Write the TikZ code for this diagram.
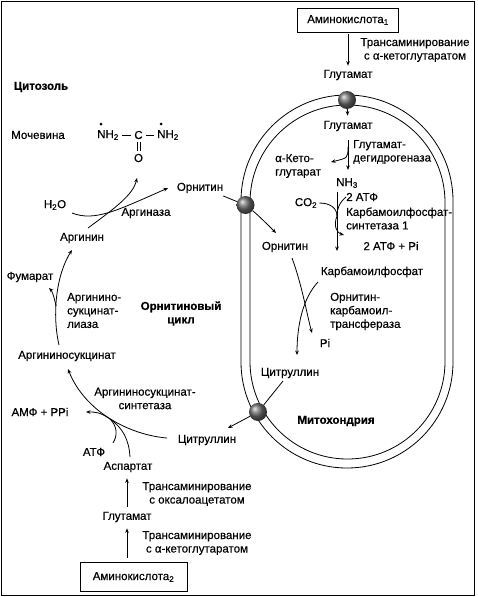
\documentclass[tikz,border=0pt]{standalone}
\usepackage{fontspec}
\setmainfont{Liberation Sans}[FakeBold=0.6]
\usetikzlibrary{arrows.meta}
\begin{document}
\begin{tikzpicture}[x=1pt,y=-1pt,
  every node/.style={font=\fontsize{11.5}{13.5}\selectfont\addfontfeature{FakeBold=0.4}, inner sep=0pt},
  bf/.style={font=\fontsize{11.5}{13.5}\selectfont\bfseries},
  arr/.style={-{Stealth[length=4.5pt,width=3.6pt]}, line width=0.8pt},
  ln/.style={line width=0.8pt},
  box/.style={draw, line width=0.8pt, minimum width=101pt, minimum height=24pt},
  mem/.style={line width=0.8pt},
  ball/.style={circle, minimum size=18pt, shading=ball, ball color=gray!85!black}]
\useasboundingbox (0,0) rectangle (477,597);
\draw[line width=0.9pt] (1.5,1.5) rectangle (474.5,595);
% mitochondrion
\draw[mem, rounded corners=105.9pt] (241,95) rectangle (453,468);
\draw[mem, rounded corners=97.4pt] (250,105) rectangle (445,459);
% ---- nodes: mitochondrial side
\node[box] (aa1) at (348,20) {Аминокислота\textsubscript{1}};
\node[align=center] (tr1) at (415,50) {Трансаминирование\\с α-кетоглутаратом};
\node (glu1) at (348,75) {Глутамат};
\node[ball] (b1) at (347,100) {};
\node (glu2) at (348,126) {Глутамат};
\node[align=left, anchor=west] (gdh) at (353,152) {Глутамат-\\дегидрогеназа};
\node[align=left, anchor=west] (akg) at (275,166) {α-Кето-\\глутарат};
\node (nh3) at (347,183) {NH\textsubscript{3}};
\node (co2) at (306,203) {CO\textsubscript{2}};
\node[anchor=west] (atp2) at (346,197) {2 АТФ};
\node[align=left, anchor=west] (cps) at (346,218.5) {Карбамоилфосфат-\\синтетаза 1};
\node (atppi) at (391,246) {2 АТФ + Pi};
\node (ornin) at (285,247) {Орнитин};
\node (ornout) at (200,188) {Орнитин};
\node[ball] (b2) at (245.5,205) {};
\node (carbp) at (372,272) {Карбамоилфосфат};
\node[align=left, anchor=west] (otc) at (330,311.5) {Орнитин-\\карбамоил-\\трансфераза};
\node (pi) at (325,343) {Pi};
\node (citin) at (290,373) {Цитруллин};
\node[ball] (b3) at (258,412) {};
\node[bf] (mito) at (336,421) {Митохондрия};
% ---- cytosol side
\node (citout) at (207,440) {Цитруллин};
\node[align=center] (ass) at (145,398.5) {Аргининосукцинат-\\синтетаза};
\node (amp) at (40,412) {АМФ + PPi};
\node (atp) at (94,452) {АТФ};
\node (asp) at (128,467) {Аспартат};
\node[align=center] (tr2) at (197,494) {Трансаминирование\\с оксалоацетатом};
\node (glu3) at (127,517) {Глутамат};
\node[align=center] (tr3) at (197,543) {Трансаминирование\\с α-кетоглутаратом};
\node[box, minimum width=107pt, minimum height=29pt] (aa2) at (133.5,577) {Аминокислота\textsubscript{2}};
\node[bf] (cyt) at (41,87) {Цитозоль};
\node (urea) at (38,135) {Мочевина};
\node (un1) at (108,135) {NH\textsubscript{2}};
\node (uc) at (138.5,135) {C};
\node (un2) at (168,135) {NH\textsubscript{2}};
\node (uo) at (138.5,158) {O};
\node (arginase) at (146,213) {Аргиназа};
\node (h2o) at (55,205) {H\textsubscript{2}O};
\node (arg) at (82,238) {Аргинин};
\node (fum) at (30,277) {Фумарат};
\node[align=left, anchor=west] (asl) at (67,310.5) {Аргинино-\\сукцинат-\\лиаза};
\node[bf, align=center] (cyc) at (181,313.5) {Орнитиновый\\цикл};
\node (argsuc) at (67,356) {Аргининосукцинат};
% ---- urea structure
\fill (101,124) circle (1.5pt);
\fill (161,124) circle (1.5pt);
\draw[ln] (un1.east |- uc.west) ++(3,0) -- ([xshift=-3pt]uc.west);
\draw[ln] ([xshift=3pt]uc.east) -- ([xshift=-3pt]un2.west |- uc.east);
\draw[ln, shorten <=3pt, shorten >=3pt] ([xshift=-1.4pt]uc.south) -- ([xshift=-1.4pt]uo.north);
\draw[ln, shorten <=3pt, shorten >=3pt] ([xshift=1.4pt]uc.south) -- ([xshift=1.4pt]uo.north);
% ---- coordinates
\coordinate (j1) at (348,147);
\coordinate (akgT) at (331,162);
\coordinate (nhT) at (337,192);
\coordinate (cpB) at (337,251);
\coordinate (j3) at (337,216);
\coordinate (cpsT) at (344,235);
\coordinate (ornT) at (276,233);
\coordinate (xa1) at (292,258);
\coordinate (xa2) at (312,333);
\coordinate (xb1) at (318,282);
\coordinate (xb2) at (297,355);
\coordinate (ci1) at (283,381);
\coordinate (ci2) at (228,428);
\coordinate (c1) at (167,438);
\coordinate (asT) at (68,369);
\coordinate (jA) at (110,419);
\coordinate (ampT) at (86,412);
\coordinate (atpS) at (113,443);
\coordinate (aspS) at (130,457);
\coordinate (argS) at (88,228);
\coordinate (ureaT) at (137,178);
\coordinate (h2oS) at (72,213);
\coordinate (ornoT) at (168,188);
\coordinate (asS) at (59,345);
\coordinate (argT) at (72,250);
\coordinate (fJ) at (56,306);
\coordinate (fT) at (49,288);
% ---- connectors
\draw[arr, shorten <=2pt, shorten >=4pt] (aa1) -- (glu1);
\draw[arr, shorten >=5pt] (b1) -- (glu2);
\draw[arr, shorten <=9pt, shorten >=8pt] (glu2) -- (glu2 |- nh3.north);
\draw[arr] (j1) .. controls (348,158) .. (akgT);
\draw[arr] (nhT) -- (cpB);
\draw[ln] ([xshift=2pt]co2.east) .. controls (330,203) and (337,208) .. (j3);
\draw[ln] (atp2.west) .. controls (339,203) and (337,209) .. (j3);
\draw[arr] (j3) .. controls (333,226) and (337,233) .. (cpsT);
\draw[ln] ([yshift=-8pt]ornout.east) -- (b2);
\draw[arr] (b2) .. controls (258,215) and (268,225) .. (ornT);
\draw[arr] (xa1) .. controls (302,285) and (307,315) .. (xa2);
\draw[arr] (xb1) .. controls (303,298) and (297,325) .. (xb2);
\draw[ln] (ci1) -- (b3);
\draw[arr] (b3) -- (ci2);
\draw[arr] (c1) .. controls (130,435) and (85,412) .. (asT);
\draw[arr] (jA) .. controls (100,412) and (95,412) .. (ampT);
\draw[ln] (atpS) .. controls (118,435) and (117,426) .. (jA);
\draw[ln] (aspS) .. controls (129,440) and (123,428) .. (jA);
\draw[arr, shorten <=5pt, shorten >=6pt] (glu3) -- (glu3 |- asp.south);
\draw[arr, shorten <=4pt, shorten >=6pt] (aa2.north -| glu3) -- (glu3);
\draw[arr] (argS) .. controls (115,208) and (133,195) .. (ureaT);
\draw[arr] (h2oS) .. controls (95,222) and (118,210) .. (ornoT);
\draw[arr] (asS) .. controls (52,315) and (56,275) .. (argT);
\draw[arr] (fJ) .. controls (54,296) and (52,291) .. (fT);
\end{tikzpicture}
\end{document}
